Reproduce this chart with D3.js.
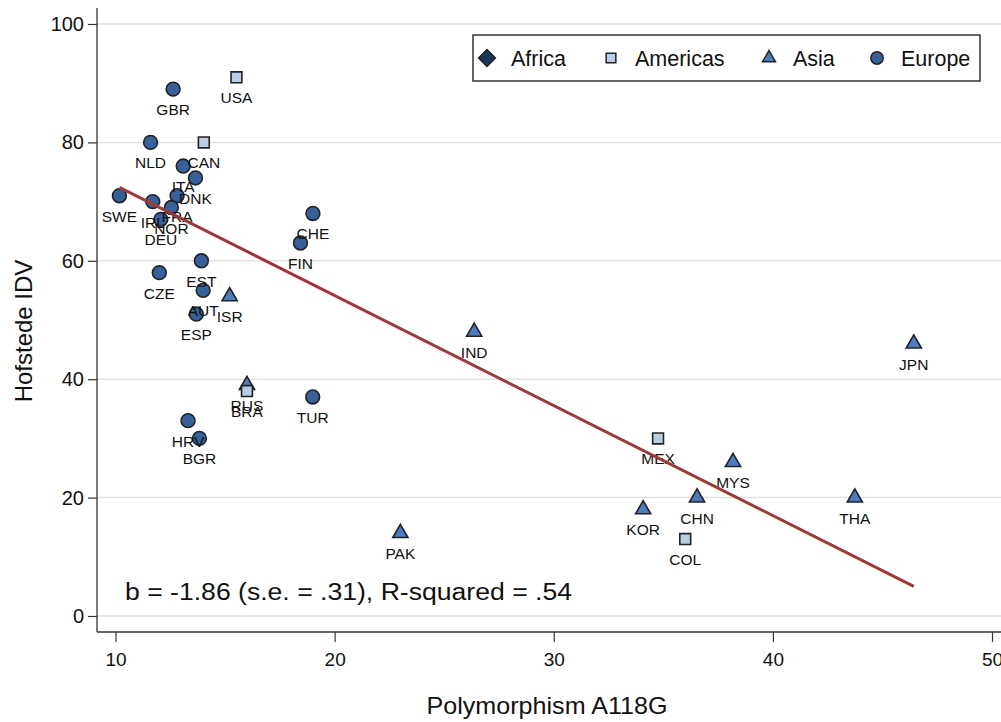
<!DOCTYPE html>
<html>
<head>
<meta charset="utf-8">
<script src="https://cdn.jsdelivr.net/npm/d3@7"></script>
<style>
  html, body { margin: 0; padding: 0; background: #ffffff; }
  svg { display: block; font-family: Arial, "Liberation Sans", Helvetica, sans-serif; }
</style>
</head>
<body>
<svg id="chart" width="1001" height="722"></svg>
<script>
// ---- data ----
const countries = ["GBR","USA","NLD","CAN","ITA","DNK","SWE","FRA","IRL","NOR","DEU","CHE","FIN","EST","CZE","AUT","ISR","ESP","IND","JPN","RUS","BRA","TUR","HRV","BGR","MEX","MYS","CHN","THA","KOR","PAK","COL"];
const regions   = ["Europe","Americas","Europe","Americas","Europe","Europe","Europe","Europe","Europe","Europe","Europe","Europe","Europe","Europe","Europe","Europe","Asia","Europe","Asia","Asia","Asia","Americas","Europe","Europe","Europe","Americas","Asia","Asia","Asia","Asia","Asia","Americas"];
const a118g     = [12.63,15.52,11.6,14.03,13.09,13.65,10.18,12.81,11.7,12.55,12.07,19.01,18.44,13.92,12.0,14.0,15.21,13.69,26.37,46.43,16.0,16.0,19.0,13.31,13.83,34.76,38.18,36.54,43.74,34.08,23.0,36.0];
const idv       = [89,91,80,80,76,74,71,71,70,69,67,68,63,60,58,55,54,51,48,46,39,38,37,33,30,30,26,20,20,18,14,13];
const legendRegions = ["Africa","Americas","Asia","Europe"];
const xTicks = [10,20,30,40,50];
const yTicks = [0,20,40,60,80,100];
const fitX = [10.18, 46.43];
const fitY = [72.4, 5.0];
const annotation = "b = -1.86 (s.e. = .31), R-squared = .54";

// ---- styles ----
const regionStyle = {
  Africa:   {symbol: d3.symbolDiamond2, fill: "#1b355b"},
  Americas: {symbol: d3.symbolSquare2,  fill: "#b9cde6"},
  Asia:     {symbol: d3.symbolTriangle2, fill: "#4a7cbf"},
  Europe:   {symbol: d3.symbolCircle,   fill: "#36619b"}
};

const svg = d3.select("#chart");
const x = d3.scaleLinear().domain([10, 50]).range([115.5, 992]);
const y = d3.scaleLinear().domain([0, 100]).range([616, 24]);

const pLeft = 97, pRight = 1001, pBottom = 632, pTop = 8;

// grid lines
svg.append("g").selectAll("line").data(yTicks).join("line")
  .attr("x1", pLeft).attr("x2", pRight)
  .attr("y1", d => y(d)).attr("y2", d => y(d))
  .attr("stroke", "#e2e2e2").attr("stroke-width", 1.5);

// y axis
const yAxis = svg.append("g").attr("transform", `translate(${pLeft},0)`)
  .call(d3.axisLeft(y).tickValues(yTicks).tickSize(9).tickPadding(4).tickFormat(d3.format("d")));
yAxis.select(".domain").remove();
yAxis.selectAll(".tick line").attr("stroke", "#333").attr("stroke-width", 1.2);
yAxis.selectAll(".tick text").attr("font-size", 20).attr("fill", "#111")
  .attr("font-family", "Arial, 'Liberation Sans', sans-serif");
svg.append("line").attr("x1", pLeft).attr("x2", pLeft).attr("y1", pTop).attr("y2", pBottom)
  .attr("stroke", "#333").attr("stroke-width", 1.3);

// x axis
const xAxis = svg.append("g").attr("transform", `translate(0,${pBottom})`)
  .call(d3.axisBottom(x).tickValues(xTicks).tickSize(10).tickPadding(11).tickFormat(d3.format("d")));
xAxis.select(".domain").remove();
xAxis.selectAll(".tick line").attr("stroke", "#333").attr("stroke-width", 1.2);
xAxis.selectAll(".tick text").attr("font-size", 19).attr("fill", "#111")
  .attr("font-family", "Arial, 'Liberation Sans', sans-serif");
svg.append("line").attr("x1", pLeft).attr("x2", pRight).attr("y1", pBottom).attr("y2", pBottom)
  .attr("stroke", "#333").attr("stroke-width", 1.3);

// axis titles
svg.append("text").attr("transform", `translate(32,331) rotate(-90)`)
  .attr("text-anchor", "middle").attr("font-size", 24).attr("fill", "#111").text("Hofstede IDV");
svg.append("text").attr("x", 547).attr("y", 714)
  .attr("text-anchor", "middle").attr("font-size", 24).attr("fill", "#111")
  .attr("textLength", 241).attr("lengthAdjust", "spacingAndGlyphs").text("Polymorphism A118G");

// points
const pts = countries.map((c, i) => ({c, r: regions[i], x: a118g[i], y: idv[i]}));
const sym = d3.symbol();
const g = svg.append("g");
g.selectAll("path").data(pts).join("path")
  .attr("transform", d => `translate(${x(d.x)},${y(d.y)})`)
  .attr("d", d => sym.type(regionStyle[d.r].symbol).size(d.r === "Asia" ? 165 : 150)())
  .attr("fill", d => regionStyle[d.r].fill)
  .attr("stroke", "#222").attr("stroke-width", 1.6);
g.selectAll("text").data(pts).join("text")
  .attr("x", d => x(d.x)).attr("y", d => y(d.y) + 26)
  .attr("text-anchor", "middle").attr("font-size", 15.5).attr("fill", "#111")
  .text(d => d.c);

// fit line
svg.append("line")
  .attr("x1", x(fitX[0])).attr("y1", y(fitY[0]))
  .attr("x2", x(fitX[1])).attr("y2", y(fitY[1]))
  .attr("stroke", "#9a3b36").attr("stroke-width", 3);

// annotation
svg.append("text").attr("x", 125).attr("y", 600).attr("font-size", 23).attr("fill", "#111")
  .attr("textLength", 447).attr("lengthAdjust", "spacingAndGlyphs").text(annotation);

// legend
const lg = svg.append("g");
lg.append("rect").attr("x", 473).attr("y", 35).attr("width", 507).attr("height", 46)
  .attr("fill", "#fff").attr("stroke", "#333").attr("stroke-width", 1.5);
const legX = [487, 611, 769, 877];
legendRegions.forEach((r, i) => {
  lg.append("path").attr("transform", `translate(${legX[i]},58)`)
    .attr("d", sym.type(regionStyle[r].symbol).size(r === "Africa" ? 180 : 120)())
    .attr("fill", regionStyle[r].fill).attr("stroke", "#222").attr("stroke-width", 1.5);
  lg.append("text").attr("x", legX[i] + 24).attr("y", 66).attr("font-size", 21.5).attr("fill", "#111").text(r);
});
</script>
</body>
</html>
